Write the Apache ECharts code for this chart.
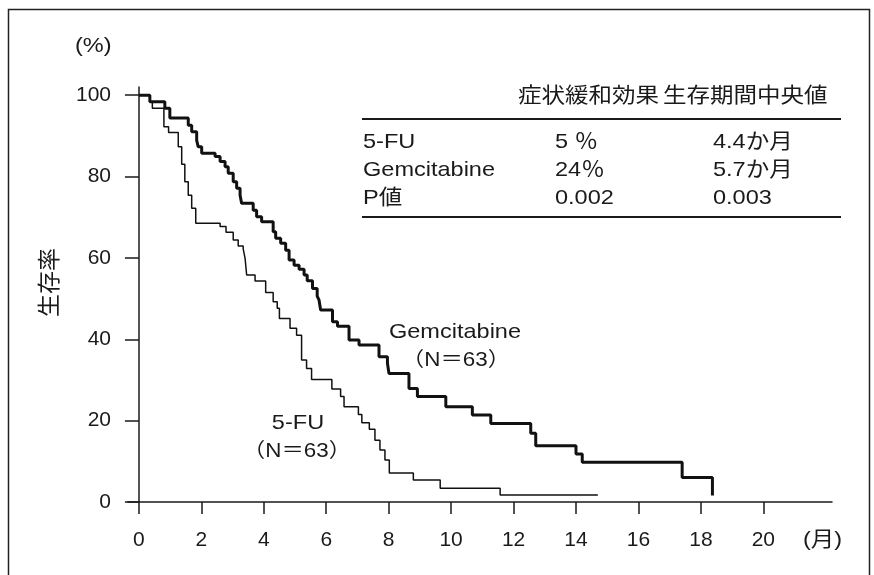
<!DOCTYPE html>
<html>
<head>
<meta charset="utf-8">
<script src="https://cdn.jsdelivr.net/npm/echarts@6/dist/echarts.min.js"></script>
<style>html,body{margin:0;padding:0;background:#fff}#c{width:874px;height:575px}</style>
</head>
<body>
<div id="c"></div>
<script>
// ---- data (months, survival %) ----
const gemTimes = [0, 0.35, 0.83, 0.99, 1.58, 1.69, 1.85, 1.90, 2.01, 2.44, 2.60, 2.76, 2.86, 3.02, 3.13, 3.24, 3.29, 3.66, 3.77, 3.93, 4.30, 4.38, 4.54, 4.70, 4.81, 4.97, 5.13, 5.29, 5.39, 5.56, 5.71, 5.77, 5.82, 6.20, 6.36, 6.73, 7.05, 7.69, 7.96, 8.01, 8.65, 8.92, 9.83, 10.68, 11.27, 12.55, 12.71, 14.00, 14.20, 17.40, 18.37];
const gemSurv  = [100, 98.4, 96.8, 94.4, 92.6, 91.0, 88.9, 87.3, 85.7, 84.9, 83.7, 82.4, 80.8, 78.7, 77.1, 75.4, 73.4, 71.7, 70.1, 68.9, 66.4, 64.8, 63.6, 61.9, 59.5, 58.2, 57.2, 55.8, 54.4, 52.5, 50.6, 49.6, 47.2, 44.3, 43.2, 39.8, 38.6, 35.7, 34.1, 31.6, 27.9, 25.9, 23.4, 21.4, 19.3, 16.9, 13.8, 11.8, 9.8, 6.0, 1.6];
const fuTimes  = [0, 0.35, 0.43, 0.80, 0.95, 1.26, 1.37, 1.47, 1.58, 1.69, 1.82, 2.60, 2.79, 3.02, 3.18, 3.34, 3.40, 3.45, 3.72, 4.06, 4.30, 4.43, 4.50, 4.84, 5.05, 5.21, 5.37, 5.53, 6.18, 6.46, 6.57, 7.03, 7.14, 7.38, 7.56, 7.72, 7.88, 8.02, 8.79, 9.65, 11.57, 14.70];
const fuSurv   = [100, 98.4, 96.8, 92.2, 90.8, 87.3, 83.0, 78.7, 75.4, 72.2, 68.5, 67.7, 66.3, 64.4, 62.9, 62.2, 59.9, 55.8, 54.3, 51.5, 49.2, 47.6, 45.1, 42.7, 41.0, 34.9, 32.8, 30.1, 27.8, 25.9, 23.4, 21.5, 19.5, 17.9, 15.2, 12.8, 10.3, 7.1, 5.4, 3.4, 1.7, 1.7];
const xTicks = [0, 2, 4, 6, 8, 10, 12, 14, 16, 18, 20];
const yTicks = [0, 20, 40, 60, 80, 100];
const tableHeader = ['症状緩和効果', '生存期間中央値'];
const tableRows = [
  ['5-FU', '5 ％', '4.4か月'],
  ['Gemcitabine', '24％', '5.7か月'],
  ['P値', '0.002', '0.003']
];
const yName = '生存率';
const yUnit = '(%)';
const xUnit = '(月)';
const gemLabel = ['Gemcitabine', '（N＝63）'];
const fuLabel = ['5-FU', '（N＝63）'];

const INK = '#1a1a1a';
const FONT = '"Liberation Sans", Arial, "Noto Sans CJK JP", sans-serif';
const chart = echarts.init(document.getElementById('c'), null, {renderer: 'canvas'});

function T(text, x, y, align, size) {
  return {type: 'text', x: x, y: y, scaleX: 1.12, silent: true,
    style: {text: text, x: 0, y: 0, fill: INK, align: align || 'left', verticalAlign: 'middle',
      font: (size || 21) + 'px ' + FONT}};
}
function L(x1, y1, x2, y2, w) {
  return {type: 'line', silent: true, shape: {x1: x1, y1: y1, x2: x2, y2: y2},
    style: {stroke: INK, lineWidth: w || 2}};
}

const graphics = [
  {type: 'rect', silent: true, shape: {x: 8.5, y: 9.5, width: 861, height: 620},
   style: {fill: 'none', stroke: '#222', lineWidth: 1.5}},
  T(tableHeader[0], 518, 96),
  T(tableHeader[1], 663, 96),
  L(362, 119, 841, 119),
  L(362, 217, 841, 217)
];
const colX = [363, 555, 713];
const rowY = [142, 170, 198];
tableRows.forEach((r, i) => r.forEach((c, j) => graphics.push(T(c, colX[j], rowY[i]))));
graphics.push(T(gemLabel[0], 455, 332, 'center'));
graphics.push(T(gemLabel[1], 456, 360, 'center', 20));
graphics.push(T(fuLabel[0], 298, 423, 'center'));
graphics.push(T(fuLabel[1], 297, 451, 'center', 20));
graphics.push(T(yUnit, 75, 46));
graphics.push(T(xUnit, 803, 540));

const option = {
  animation: false,
  backgroundColor: '#fff',
  grid: {left: 128, top: 87, width: 704, height: 415, containLabel: false, outerBoundsMode: 'none'},
  xAxis: {
    type: 'value', min: -0.35, max: 22.2,
    axisLine: {show: true, onZero: false, lineStyle: {color: INK, width: 1.5}},
    axisTick: {show: true, inside: false, length: 12, customValues: xTicks, lineStyle: {color: INK, width: 1.5}},
    axisLabel: {customValues: xTicks, margin: 28, fontSize: 21, color: INK, fontFamily: FONT},
    splitLine: {show: false}
  },
  yAxis: {
    type: 'value', min: 0, max: 102,
    name: yName, nameLocation: 'middle', nameRotate: 90, nameGap: 68, nameMoveOverlap: false,
    nameTextStyle: {fontSize: 23, color: INK, fontFamily: '"Noto Sans CJK JP", sans-serif', padding: [0, 0, 0, 24]},
    axisLine: {show: true, onZero: true, lineStyle: {color: INK, width: 1.5}},
    axisTick: {show: true, inside: false, length: 14, customValues: yTicks, lineStyle: {color: INK, width: 1.5}},
    axisLabel: {customValues: yTicks, margin: 17, fontSize: 21, color: INK, fontFamily: FONT},
    splitLine: {show: false}
  },
  series: [
    {type: 'line', name: 'Gemcitabine', step: 'end', symbol: 'none', silent: true,
     lineStyle: {color: '#111', width: 3}, data: gemTimes.map((t, i) => [t, gemSurv[i]])},
    {type: 'line', name: '5-FU', step: 'end', symbol: 'none', silent: true,
     lineStyle: {color: '#111', width: 1.5}, data: fuTimes.map((t, i) => [t, fuSurv[i]])}
  ],
  graphic: graphics
};
chart.setOption(option);
</script>
</body>
</html>
